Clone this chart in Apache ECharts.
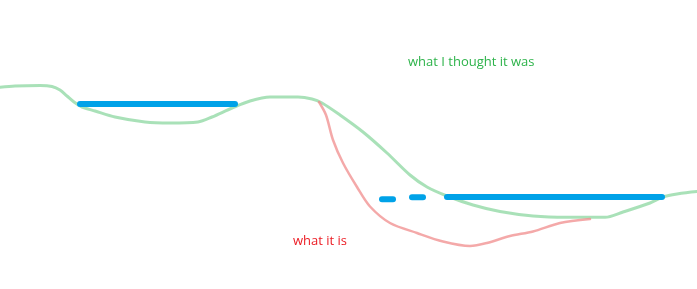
<!DOCTYPE html>
<html><head><meta charset="utf-8">
<script src="https://cdn.jsdelivr.net/npm/echarts@6/dist/echarts.min.js"></script>
<style>html,body{margin:0;padding:0;background:#fff}#c{width:697px;height:289px}</style>
</head><body><div id="c"></div>
<script>
const greenPts = [[0,87.3],[15,86],[40,85.5],[52,86.5],[60,90],[67,96],[74,102],[82,107],[95,111],[115,117],[145,122],[170,123],[198,122],[212,117],[232,108],[250,101],[270,97],[298,97],[312,99],[322,103],[340,115],[363,132],[387,153],[410,175],[427,187],[447,196],[473,205],[500,211.5],[533,216],[567,217.3],[605,217.3],[623,212],[650,203],[663,197],[677,194],[697,191.5]];
const redPts = [[319,102],[326,115],[333,140],[343,163],[357,187],[370,206.5],[390,223],[417,233],[443,241.5],[470,246],[487,243],[510,236],[533,231.5],[560,223],[590,219]];
const bluePts1 = [[80,104],[235,104]];
const bluePts2 = [[447,197],[662,197]];
const blueDash1 = [[382,199.3],[393,199.3]];
const blueDash2 = [[412,197.3],[423,197.3]];
const labels = ["what I thought it was", "what it is"];

const chart = echarts.init(document.getElementById('c'));
const blue = (d) => ({type:'line', data:d, symbol:'none', lineStyle:{color:'#00a2e8', width:6, cap:'round'}, z:5});
chart.setOption({
  animation:false,
  grid:{left:0,right:0,top:0,bottom:0},
  xAxis:{type:'value',min:0,max:697,show:false},
  yAxis:{type:'value',min:0,max:289,inverse:true,show:false},
  series:[
    {type:'line', data:greenPts, smooth:0.3, symbol:'none', lineStyle:{color:'rgba(140,215,160,0.75)', width:3, cap:'round'}},
    {type:'line', data:redPts, smooth:0.3, symbol:'none', lineStyle:{color:'rgba(240,140,140,0.75)', width:2.5, cap:'round'}},
    blue(bluePts1), blue(bluePts2), blue(blueDash1), blue(blueDash2)
  ],
  graphic:[
    {type:'text', left:408, top:56, style:{text:labels[0], fill:'#2db34a', font:'13px "Open Sans"'}},
    {type:'text', left:293, top:235, style:{text:labels[1], fill:'#ec1c24', font:'13px "Open Sans"'}}
  ]
});
</script></body></html>
